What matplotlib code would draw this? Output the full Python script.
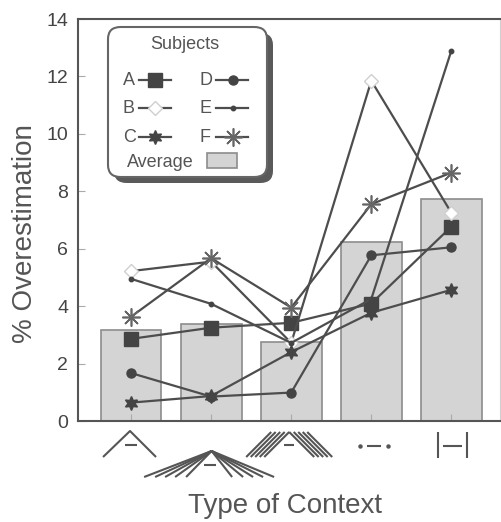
import matplotlib
matplotlib.use('Agg')
import matplotlib.pyplot as plt
import matplotlib.transforms as mtransforms
from matplotlib.patches import FancyBboxPatch, Rectangle
from matplotlib.lines import Line2D

plt.rcParams['font.family'] = ['Liberation Sans', 'DejaVu Sans']

# data
contexts = [0, 1, 2, 3, 4]
average = [3.18, 3.39, 2.76, 6.25, 7.72]
subj_A = [2.86, 3.25, 3.42, 4.09, 6.77]
subj_B = [5.22, 5.55, 2.72, 11.85, 7.25]
subj_C = [0.64, 0.87, 2.40, 3.77, 4.57]
subj_D = [1.67, 0.85, 0.99, 5.77, 6.05]
subj_E = [4.95, 4.08, 2.72, 4.25, 12.90]
subj_F = [3.63, 5.67, 3.95, 7.55, 8.65]
yticks = [0, 2, 4, 6, 8, 10, 12, 14]

LC = '#4d4d4d'
styles = {
    'A': dict(marker='s', ms=9.5, mfc='#444444', mec='#444444'),
    'B': dict(marker='D', ms=7, mfc='white', mec='#cfcfcf', mew=1),
    'C': dict(marker=(6, 1, 0), ms=10, mfc='#444444', mec='#444444'),
    'D': dict(marker='o', ms=6.5, mfc='#444444', mec='#444444'),
    'E': dict(marker='o', ms=3.2, mfc='#444444', mec='#444444'),
    'F': dict(marker=(8, 2, 0), ms=13, mec='#666666', mew=1.2),
}
series = {'A': subj_A, 'B': subj_B, 'C': subj_C, 'D': subj_D, 'E': subj_E, 'F': subj_F}

fig = plt.figure(figsize=(5.02, 5.22), dpi=100)
ax = fig.add_axes([78/502, 101/522, 422/502, 402/522])

ax.bar(contexts, average, width=0.76, color='#d4d4d4', edgecolor='#8c8c8c', lw=1.2, zorder=1)
for k, vals in series.items():
    ax.plot(contexts, vals, color=LC, lw=1.6, zorder=3, **styles[k])

ax.set_xlim(-0.662, 4.607)
ax.set_ylim(0, 14)
ax.set_yticks(yticks)
ax.set_xticks(contexts)
ax.set_xticklabels([])
ax.tick_params(axis='both', direction='in', color='#aaaaaa', length=5, labelsize=14,
               labelcolor='#444444', pad=7)
for s in ['left', 'bottom', 'top']:
    ax.spines[s].set_color('#555555')
    ax.spines[s].set_linewidth(1.5)
ax.spines['right'].set_color('#d0d0d0')

ax.set_ylabel('% Overestimation', fontsize=20, color='#555555')
ax.yaxis.set_label_coords(-0.095, 0.466)
ax.set_xlabel('Type of Context', fontsize=20, color='#555555', va='top')
ax.xaxis.set_label_coords(0.49, -0.178)

# context pictograms under each category (offsets in pixels from tick position)
def icon_trans(i):
    return (mtransforms.Affine2D().scale(1/100, -1/100) + fig.dpi_scale_trans +
            mtransforms.ScaledTranslation(i, 0, ax.transData))

icons = []
# 1: single angle with dash
icons.append([[(-28, 36), (-1, 10), (25, 36)], [(-6, 24), (6, 24)]])
# 2: fan of lines
fan = [[(0.5, 30), (-d, 56)] for d in (25, 36, 46, 56, 67)]
fan += [[(0.5, 30), (d - 3, 56)] for d in (24, 35, 45, 55, 66)]
fan.append([(-7, 44), (5, 44)])
icons.append(fan)
# 3: parallel angles
par = []
for k in range(5):
    s = 4.5 * k
    par.append([(-27 - s, 36), (-2 - s, 11)])
    par.append([(-2 + s, 11), (23 + s, 36)])
par.append([(-7, 24), (3, 24)])
icons.append(par)
# 4: dot dash dot
icons.append([[(-4.5, 25), (9.5, 25)]])
# 5: bar dash bar
icons.append([[(-13.5, 11), (-13.5, 37)], [(15.5, 11), (15.5, 37)], [(-8.5, 25), (10.5, 25)]])

for i, segs in enumerate(icons):
    tr = icon_trans(i)
    for seg in segs:
        xs = [p[0] for p in seg]
        ys = [p[1] for p in seg]
        ax.add_line(Line2D(xs, ys, transform=tr, color='#555555', lw=1.5,
                           clip_on=False, solid_capstyle='butt'))
    if i == 3:
        ax.add_line(Line2D([-11.5, 16.5], [25, 25], transform=tr, ls='none', marker='o',
                           ms=2.2, color='#555555', clip_on=False))

# legend box drawn by hand
def fx(px):
    return (px - 78) / 422

def fy(py):
    return (421 - py) / 402

shadow = FancyBboxPatch((fx(114), fy(183)), fx(273) - fx(114), fy(33) - fy(183),
                        boxstyle='round,pad=0,rounding_size=0.03', transform=ax.transAxes,
                        fc='#5a5a5a', ec='none', zorder=8, clip_on=False)
box = FancyBboxPatch((fx(108), fy(177)), fx(267) - fx(108), fy(27) - fy(177),
                     boxstyle='round,pad=0,rounding_size=0.03', transform=ax.transAxes,
                     fc='white', ec='#666666', lw=1.5, zorder=9, clip_on=False)
ax.add_patch(shadow)
ax.add_patch(box)
ax.text(fx(185), fy(44), 'Subjects', transform=ax.transAxes, ha='center', va='center',
        fontsize=13, color='#555555', zorder=10)

rows = {'A': (0, 80), 'B': (0, 108), 'C': (0, 137), 'D': (1, 80), 'E': (1, 108), 'F': (1, 137)}
cols = [(123, 139, 171, 155), (200, 216, 248, 233)]
for k, (c, py) in rows.items():
    tx, l0, l1, mx = cols[c]
    ax.text(fx(tx), fy(py), k, transform=ax.transAxes, ha='left', va='center',
            fontsize=13, color='#555555', zorder=10)
    ax.add_line(Line2D([fx(l0), fx(l1)], [fy(py), fy(py)], transform=ax.transAxes,
                       color=LC, lw=1.6, zorder=10, clip_on=False))
    ax.add_line(Line2D([fx(mx)], [fy(py)], transform=ax.transAxes, ls='none',
                       color=LC, zorder=11, clip_on=False, **styles[k]))

ax.text(fx(127), fy(162), 'Average', transform=ax.transAxes, ha='left', va='center',
        fontsize=13, color='#555555', zorder=10)
ax.add_patch(Rectangle((fx(207), fy(168)), fx(237) - fx(207), fy(153) - fy(168),
                       transform=ax.transAxes, fc='#d4d4d4', ec='#8c8c8c', lw=1.2,
                       zorder=10, clip_on=False))

fig.savefig('out.png', dpi=100)
